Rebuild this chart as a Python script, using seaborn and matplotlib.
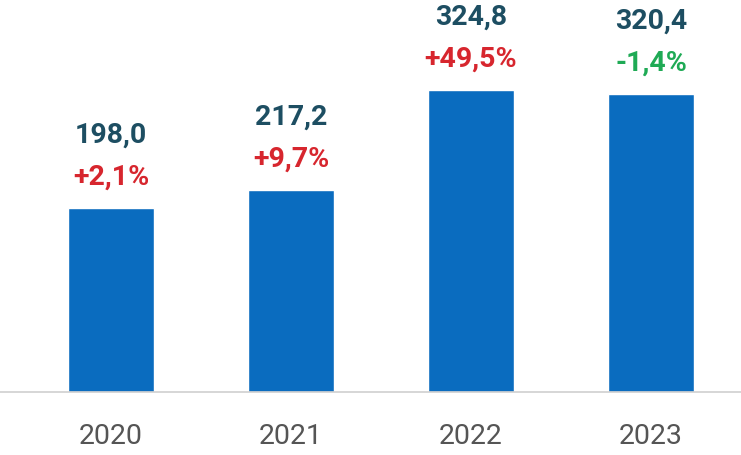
import pandas as pd
import matplotlib.pyplot as plt
import seaborn as sns

years = ["2020", "2021", "2022", "2023"]
values = [198.0, 217.2, 324.8, 320.4]
changes = [2.1, 9.7, 49.5, -1.4]

df = pd.DataFrame({"year": years, "value": values})

sns.set_style("white")
plt.rcParams["font.family"] = ["Roboto", "DejaVu Sans"]

fig = plt.figure(figsize=(7.41, 4.55), dpi=100)
ax = fig.add_axes([0, 63 / 455, 1, 392 / 455])

sns.barplot(data=df, x="year", y="value", color="#0a6cbf", saturation=1,
            width=0.48, ax=ax)

ax.set_xlim(-0.5 - 21 / 180, 3.5)
ax.set_ylim(0, 392 / 0.93)

for i, (v, c) in enumerate(zip(values, changes)):
    ax.annotate(f"{v:.1f}".replace(".", ","), (i, v), xytext=(0, 73),
                textcoords="offset pixels", ha="center", va="center",
                fontsize=20.5, fontweight="bold", color="#1d4e62")
    sign = "+" if c > 0 else ""
    col = "#d7262e" if c > 0 else "#1faa55"
    ax.annotate(f"{sign}{c:.1f}%".replace(".", ","), (i, v), xytext=(0, 31),
                textcoords="offset pixels", ha="center", va="center",
                fontsize=20.5, fontweight="bold", color=col)

sns.despine(ax=ax, left=True, top=True, right=True)
ax.spines["bottom"].set_color("#cfcfcf")
ax.spines["bottom"].set_linewidth(1.2)
ax.set_yticks([])
ax.set_xlabel("")
ax.set_ylabel("")
ax.tick_params(axis="x", length=0, pad=22, labelsize=20.5, labelcolor="#555555")

fig.savefig("out.png", dpi=100)
